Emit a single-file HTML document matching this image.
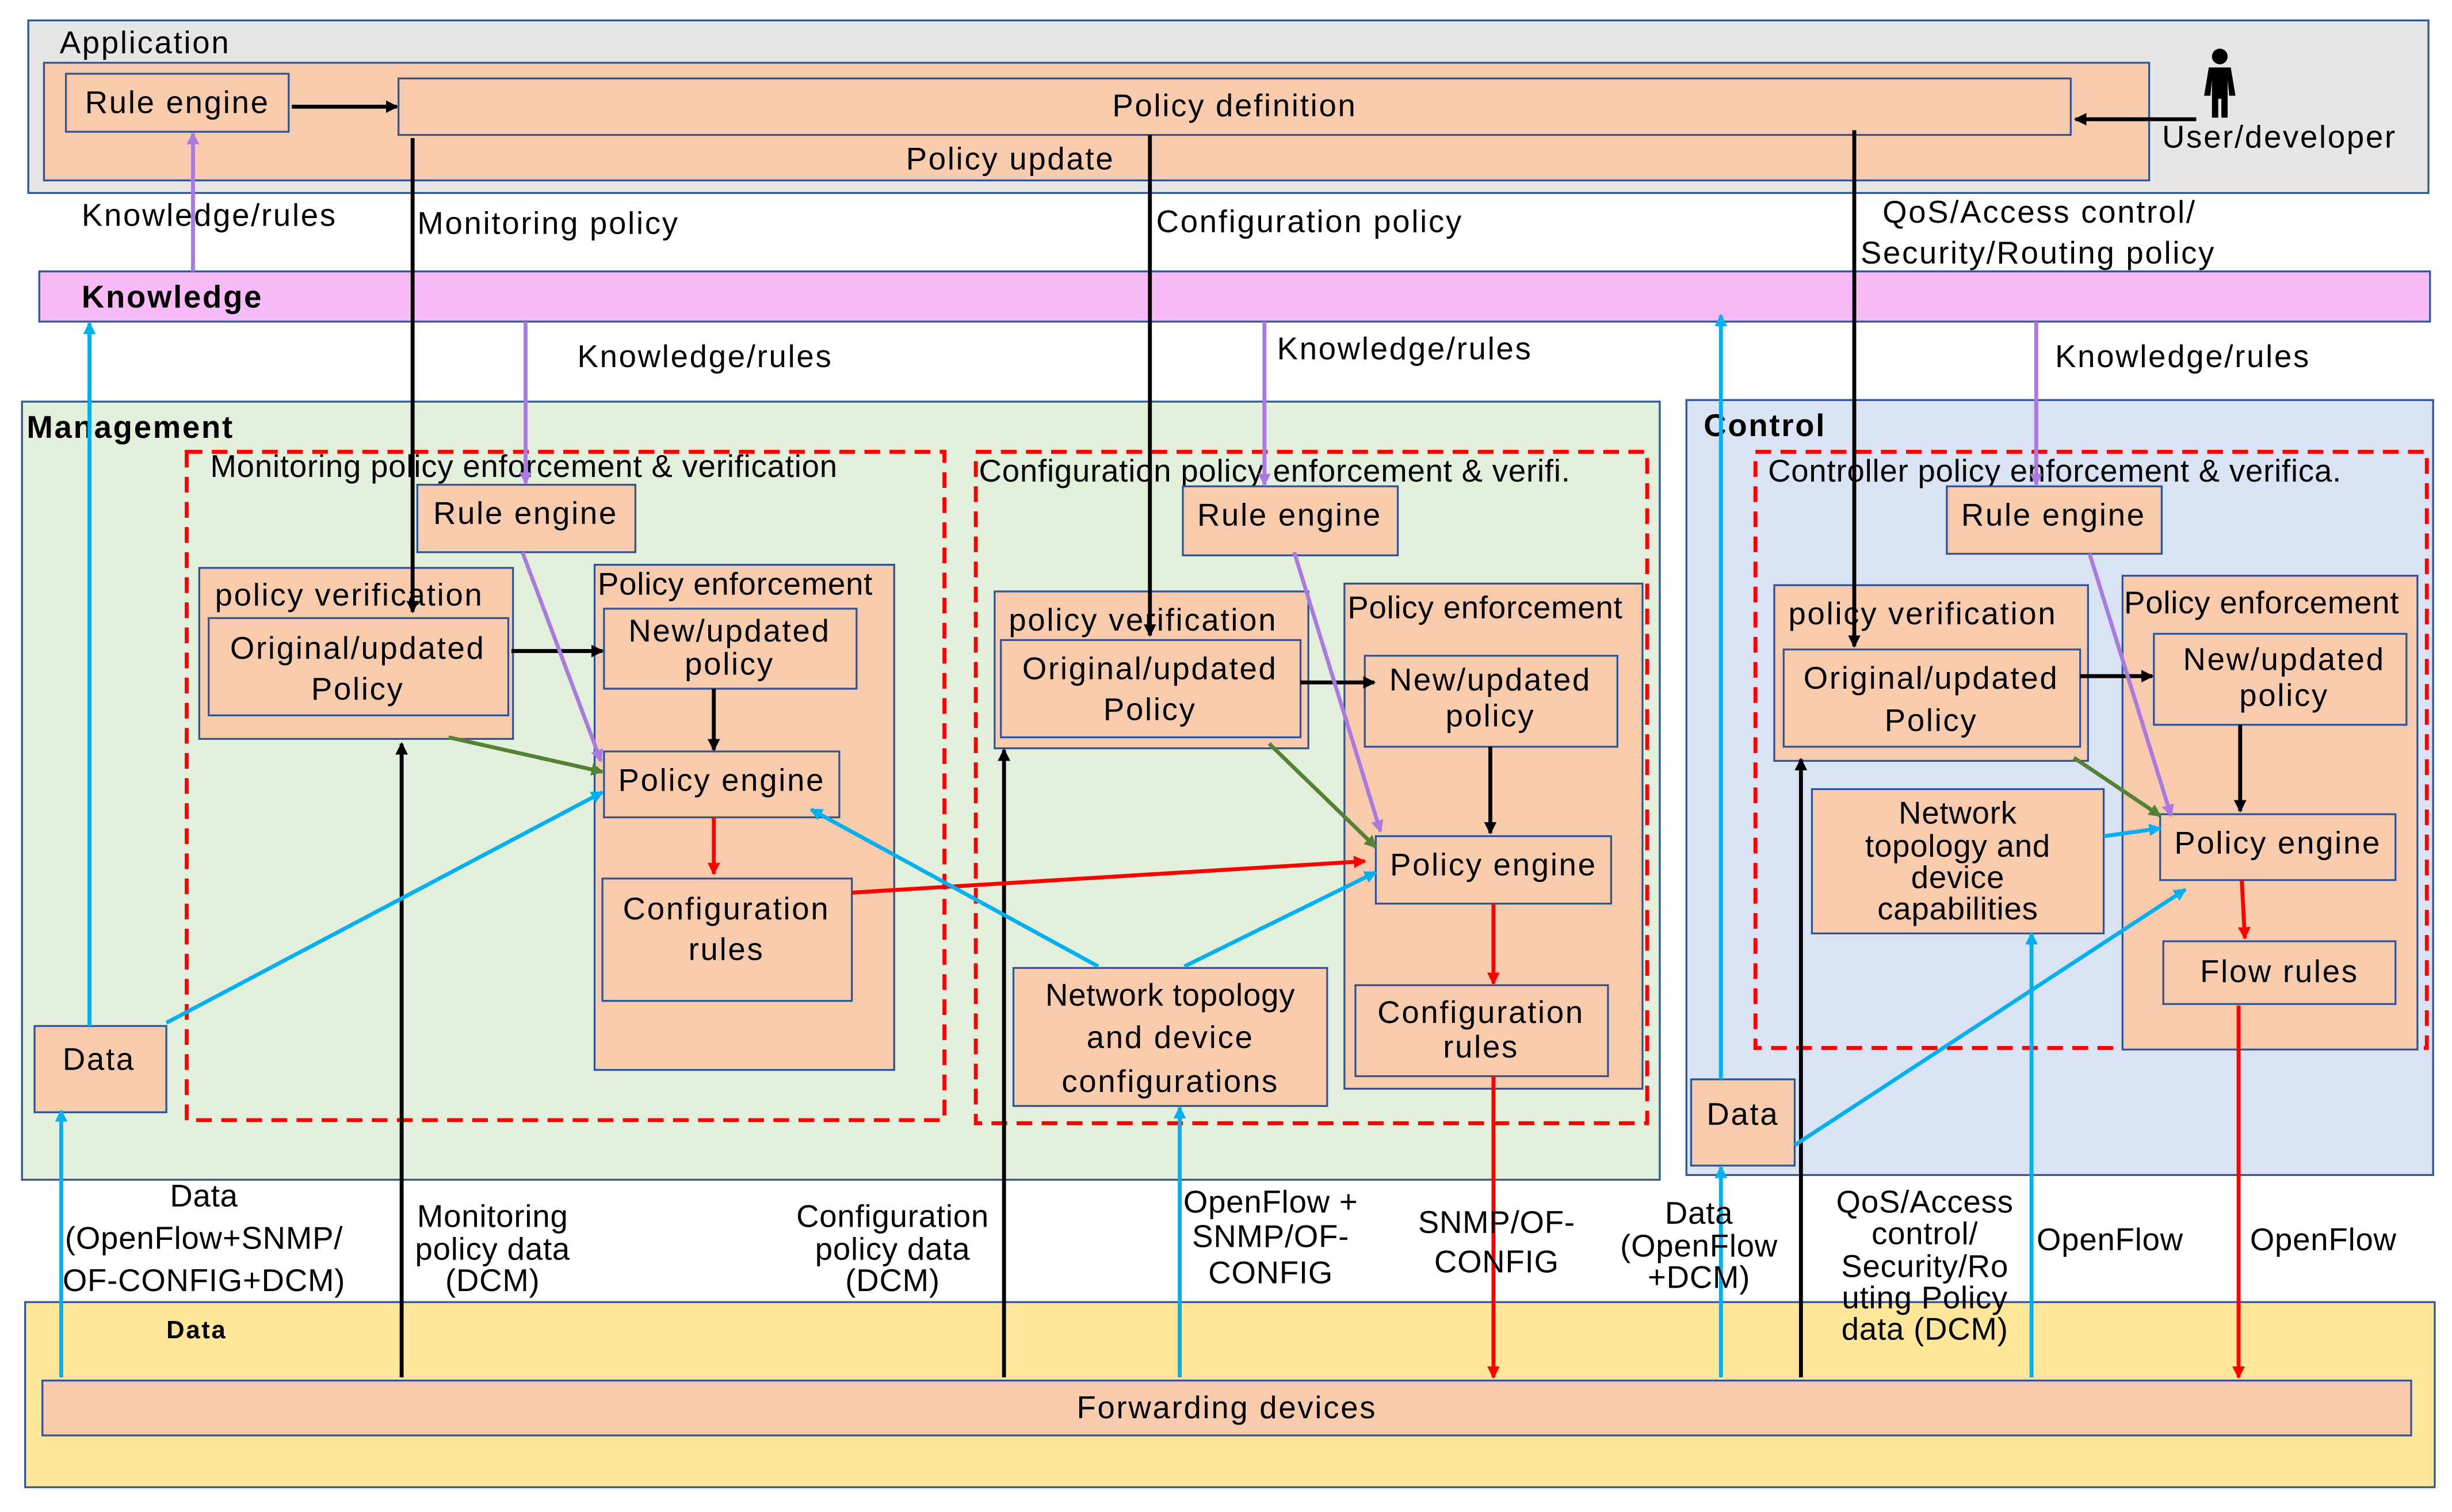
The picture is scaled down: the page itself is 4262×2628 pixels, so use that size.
<!DOCTYPE html>
<html><head><meta charset="utf-8">
<style>
html,body{margin:0;padding:0;background:#fff;}
svg{display:block;}
text{font-family:"Liberation Sans","DejaVu Sans",sans-serif;font-size:20px;letter-spacing:1px;fill:#000;}
.b{font-weight:bold;}
.sm{letter-spacing:0.3px;}
.box{fill:#f8cbad;stroke:#2f5597;stroke-width:1.2;}
</style></head>
<body>
<svg width="4262" height="2628" viewBox="0 0 1563 963.8" xmlns="http://www.w3.org/2000/svg">
<defs>
<marker id="ak" markerWidth="8" markerHeight="8" refX="7" refY="4" orient="auto" markerUnits="userSpaceOnUse"><path d="M0,0 L8,4 L0,8z" fill="#000"/></marker>
<marker id="ap" markerWidth="8" markerHeight="8" refX="7" refY="4" orient="auto" markerUnits="userSpaceOnUse"><path d="M0,0 L8,4 L0,8z" fill="#a97be0"/></marker>
<marker id="ab" markerWidth="8" markerHeight="8" refX="7" refY="4" orient="auto" markerUnits="userSpaceOnUse"><path d="M0,0 L8,4 L0,8z" fill="#00b0f0"/></marker>
<marker id="ar" markerWidth="8" markerHeight="8" refX="7" refY="4" orient="auto" markerUnits="userSpaceOnUse"><path d="M0,0 L8,4 L0,8z" fill="#ff0000"/></marker>
<marker id="ag" markerWidth="8" markerHeight="8" refX="7" refY="4" orient="auto" markerUnits="userSpaceOnUse"><path d="M0,0 L8,4 L0,8z" fill="#548235"/></marker>
</defs>

<rect x="18" y="13" width="1530" height="110" fill="#e7e6e6" stroke="#2f5597" stroke-width="1.2"/>
<text x="38" y="34">Application</text>
<rect x="28" y="40" width="1342" height="75" class="box"/>
<rect x="42" y="47" width="142" height="37" class="box"/>
<text x="113" y="72" text-anchor="middle">Rule engine</text>
<rect x="254" y="50" width="1066" height="36" class="box"/>
<text x="787" y="74" text-anchor="middle">Policy definition</text>
<text x="644" y="108" text-anchor="middle">Policy update</text>
<g fill="#000">
<circle cx="1415" cy="36" r="5"/>
<path d="M1408,43 h14 l3,18 h-4 l-1,-10 v24 h-4 v-12 h-2 v12 h-4 v-24 l-1,10 h-4z"/>
</g>
<text x="1453" y="94" text-anchor="middle">User/developer</text>
<line x1="186" y1="68" x2="253" y2="68" stroke="#000" stroke-width="2.5" marker-end="url(#ak)"/>
<line x1="1400" y1="76" x2="1323" y2="76" stroke="#000" stroke-width="2.5" marker-end="url(#ak)"/>

<text x="52" y="144">Knowledge/rules</text>
<text x="266" y="149">Monitoring policy</text>
<text x="737" y="148">Configuration policy</text>
<text x="1200" y="142">QoS/Access control/</text>
<text x="1186" y="168">Security/Routing policy</text>

<rect x="25" y="173" width="1524" height="32" fill="#f8bbf8" stroke="#2f5597" stroke-width="1.2"/>
<text x="52" y="196" class="b">Knowledge</text>
<line x1="123" y1="173" x2="123" y2="85" stroke="#a97be0" stroke-width="2.5" marker-end="url(#ap)"/>

<text x="368" y="234">Knowledge/rules</text>
<text x="814" y="229">Knowledge/rules</text>
<text x="1310" y="234">Knowledge/rules</text>

<rect x="14" y="256" width="1044" height="496" fill="#e2efda" stroke="#2f5597" stroke-width="1.2"/>
<text x="17" y="279" class="b">Management</text>
<rect x="1075" y="255" width="476" height="494" fill="#dae3f3" stroke="#2f5597" stroke-width="1.2"/>
<text x="1086" y="278" class="b">Control</text>

<rect x="16" y="830" width="1536" height="118" fill="#ffe699" stroke="#2f5597" stroke-width="1.2"/>
<text x="106" y="853" class="b" style="font-size:16px">Data</text>
<rect x="27" y="880" width="1510" height="35" class="box"/>
<text x="782" y="904" text-anchor="middle">Forwarding devices</text>

<g fill="none" stroke="#ff0000" stroke-width="2.5" stroke-dasharray="10,6">
<rect x="119" y="288" width="483" height="426"/>
<rect x="622" y="288" width="428" height="428"/>
<rect x="1119" y="288" width="428" height="380"/>
</g>
<text x="134" y="304" class="sm">Monitoring policy enforcement &amp; verification</text>
<text x="624" y="307" class="sm">Configuration policy enforcement &amp; verifi.</text>
<text x="1127" y="307" class="sm">Controller policy enforcement &amp; verifica.</text>

<rect x="266" y="309" width="139" height="43" class="box"/><text x="335" y="334" text-anchor="middle">Rule engine</text>
<rect x="127" y="362" width="200" height="109" class="box"/><text x="137" y="386">policy verification</text>
<rect x="133" y="394" width="191" height="62" class="box"/><text x="228" y="420" text-anchor="middle">Original/updated</text><text x="228" y="446" text-anchor="middle">Policy</text>
<rect x="379" y="360" width="191" height="322" class="box"/><text x="381" y="379" class="sm">Policy enforcement</text>
<rect x="385" y="388" width="161" height="51" class="box"/><text x="465" y="409" text-anchor="middle">New/updated</text><text x="465" y="430" text-anchor="middle">policy</text>
<rect x="385" y="479" width="150" height="42" class="box"/><text x="460" y="504" text-anchor="middle">Policy engine</text>
<rect x="384" y="560" width="159" height="78" class="box"/><text x="463" y="586" text-anchor="middle">Configuration</text><text x="463" y="612" text-anchor="middle">rules</text>
<rect x="22" y="654" width="84" height="55" class="box"/><text x="63" y="682" text-anchor="middle">Data</text>

<rect x="754" y="310" width="137" height="44" class="box"/><text x="822" y="335" text-anchor="middle">Rule engine</text>
<rect x="634" y="377" width="200" height="100" class="box"/><text x="643" y="402">policy verification</text>
<rect x="638" y="408" width="191" height="62" class="box"/><text x="733" y="433" text-anchor="middle">Original/updated</text><text x="733" y="459" text-anchor="middle">Policy</text>
<rect x="857" y="372" width="190" height="322" class="box"/><text x="859" y="394" class="sm">Policy enforcement</text>
<rect x="870" y="418" width="161" height="58" class="box"/><text x="950" y="440" text-anchor="middle">New/updated</text><text x="950" y="463" text-anchor="middle">policy</text>
<rect x="877" y="533" width="150" height="43" class="box"/><text x="952" y="558" text-anchor="middle">Policy engine</text>
<rect x="864" y="628" width="161" height="58" class="box"/><text x="944" y="652" text-anchor="middle">Configuration</text><text x="944" y="674" text-anchor="middle">rules</text>
<rect x="646" y="617" width="200" height="88" class="box"/><text x="746" y="641" text-anchor="middle" class="sm">Network topology</text><text x="746" y="668" text-anchor="middle">and device</text><text x="746" y="696" text-anchor="middle">configurations</text>

<rect x="1241" y="310" width="137" height="43" class="box"/><text x="1309" y="335" text-anchor="middle">Rule engine</text>
<rect x="1131" y="373" width="200" height="112" class="box"/><text x="1140" y="398">policy verification</text>
<rect x="1137" y="414" width="189" height="62" class="box"/><text x="1231" y="439" text-anchor="middle">Original/updated</text><text x="1231" y="466" text-anchor="middle">Policy</text>
<rect x="1353" y="367" width="188" height="302" class="box"/><text x="1354" y="391" class="sm">Policy enforcement</text>
<rect x="1373" y="404" width="161" height="58" class="box"/><text x="1456" y="427" text-anchor="middle">New/updated</text><text x="1456" y="450" text-anchor="middle">policy</text>
<rect x="1377" y="519" width="150" height="42" class="box"/><text x="1452" y="544" text-anchor="middle">Policy engine</text>
<rect x="1379" y="600" width="148" height="40" class="box"/><text x="1453" y="626" text-anchor="middle">Flow rules</text>
<rect x="1155" y="503" width="186" height="92" class="box"/><text x="1248" y="525" text-anchor="middle" class="sm">Network</text><text x="1248" y="546" text-anchor="middle" class="sm">topology and</text><text x="1248" y="566" text-anchor="middle" class="sm">device</text><text x="1248" y="586" text-anchor="middle" class="sm">capabilities</text>
<rect x="1078" y="688" width="66" height="55" class="box"/><text x="1111" y="717" text-anchor="middle">Data</text>

<g stroke="#000" stroke-width="2.5" fill="none">
<line x1="263" y1="88" x2="263" y2="390" marker-end="url(#ak)"/>
<line x1="733" y1="86" x2="733" y2="405" marker-end="url(#ak)"/>
<line x1="1182" y1="83" x2="1182" y2="412" marker-end="url(#ak)"/>
<line x1="326" y1="415" x2="384" y2="415" marker-end="url(#ak)"/>
<line x1="829" y1="435" x2="876" y2="435" marker-end="url(#ak)"/>
<line x1="1326" y1="431" x2="1372" y2="431" marker-end="url(#ak)"/>
<line x1="455" y1="439" x2="455" y2="478" marker-end="url(#ak)"/>
<line x1="950" y1="476" x2="950" y2="531" marker-end="url(#ak)"/>
<line x1="1428" y1="462" x2="1428" y2="517" marker-end="url(#ak)"/>
<line x1="256" y1="878" x2="256" y2="474" marker-end="url(#ak)"/>
<line x1="640" y1="878" x2="640" y2="478" marker-end="url(#ak)"/>
<line x1="1148" y1="878" x2="1148" y2="484" marker-end="url(#ak)"/>
</g>
<g stroke="#a97be0" stroke-width="2.5">
<line x1="335" y1="205" x2="335" y2="308" marker-end="url(#ap)"/>
<line x1="806" y1="205" x2="806" y2="309" marker-end="url(#ap)"/>
<line x1="1298" y1="205" x2="1298" y2="309" marker-end="url(#ap)"/>
<line x1="333" y1="352" x2="383" y2="485" marker-end="url(#ap)"/>
<line x1="825" y1="352" x2="880" y2="530" marker-end="url(#ap)"/>
<line x1="1332" y1="353" x2="1384" y2="520" marker-end="url(#ap)"/>
</g>
<g stroke="#548235" stroke-width="2.5">
<line x1="286" y1="470" x2="384" y2="492" marker-end="url(#ag)"/>
<line x1="809" y1="474" x2="877" y2="540" marker-end="url(#ag)"/>
<line x1="1322" y1="483" x2="1377" y2="520" marker-end="url(#ag)"/>
</g>
<g stroke="#ff0000" stroke-width="2.5">
<line x1="455" y1="521" x2="455" y2="557" marker-end="url(#ar)"/>
<line x1="952" y1="576" x2="952" y2="627" marker-end="url(#ar)"/>
<line x1="1429" y1="561" x2="1431" y2="598" marker-end="url(#ar)"/>
<line x1="543" y1="569" x2="870" y2="549" marker-end="url(#ar)"/>
<line x1="952" y1="686" x2="952" y2="878" marker-end="url(#ar)"/>
<line x1="1427" y1="641" x2="1427" y2="878" marker-end="url(#ar)"/>
</g>
<g stroke="#00b0f0" stroke-width="2.5">
<line x1="106" y1="652" x2="384" y2="505" marker-end="url(#ab)"/>
<line x1="700" y1="616" x2="517" y2="516" marker-end="url(#ab)"/>
<line x1="755" y1="616" x2="877" y2="556" marker-end="url(#ab)"/>
<line x1="1341" y1="533" x2="1377" y2="528" marker-end="url(#ab)"/>
<line x1="1144" y1="730" x2="1393" y2="567" marker-end="url(#ab)"/>
<line x1="57" y1="654" x2="57" y2="206" marker-end="url(#ab)"/>
<line x1="1097" y1="688" x2="1097" y2="201" marker-end="url(#ab)"/>
<line x1="39" y1="878" x2="39" y2="708" marker-end="url(#ab)"/>
<line x1="752" y1="878" x2="752" y2="706" marker-end="url(#ab)"/>
<line x1="1097" y1="878" x2="1097" y2="744" marker-end="url(#ab)"/>
<line x1="1295" y1="878" x2="1295" y2="595" marker-end="url(#ab)"/>
</g>

<g text-anchor="middle" class="sm">
<text x="130" y="769" class="sm">Data</text><text x="130" y="796" class="sm">(OpenFlow+SNMP/</text><text x="130" y="823" class="sm">OF-CONFIG+DCM)</text>
<text x="314" y="782" class="sm">Monitoring</text><text x="314" y="803" class="sm">policy data</text><text x="314" y="823" class="sm">(DCM)</text>
<text x="569" y="782" class="sm">Configuration</text><text x="569" y="803" class="sm">policy data</text><text x="569" y="823" class="sm">(DCM)</text>
<text x="810" y="773" class="sm">OpenFlow +</text><text x="810" y="795" class="sm">SNMP/OF-</text><text x="810" y="818" class="sm">CONFIG</text>
<text x="954" y="786" class="sm">SNMP/OF-</text><text x="954" y="811" class="sm">CONFIG</text>
<text x="1083" y="780" class="sm">Data</text><text x="1083" y="801" class="sm">(OpenFlow</text><text x="1083" y="821" class="sm">+DCM)</text>
<text x="1227" y="773" class="sm">QoS/Access</text><text x="1227" y="793" class="sm">control/</text><text x="1227" y="814" class="sm">Security/Ro</text><text x="1227" y="834" class="sm">uting Policy</text><text x="1227" y="854" class="sm">data (DCM)</text>
<text x="1345" y="797" class="sm">OpenFlow</text>
<text x="1481" y="797" class="sm">OpenFlow</text>
</g>
</svg>
</body></html>
